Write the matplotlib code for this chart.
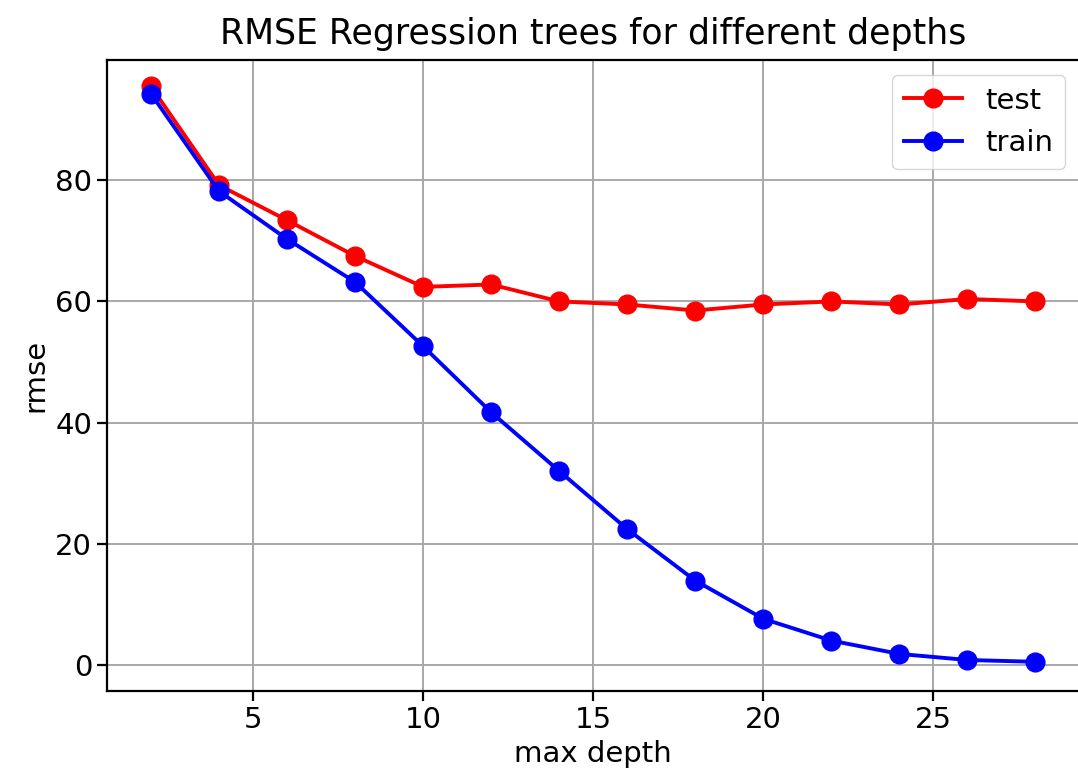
import numpy as np
import matplotlib
matplotlib.use("Agg")
import matplotlib.pyplot as plt

# tree depths and RMSE per split
depths = [2, 4, 6, 8, 10, 12, 14, 16, 18, 20, 22, 24, 26, 28]
rmse_test = [95.5, 79.2, 73.4, 67.5, 62.4, 62.8, 60.0, 59.5, 58.5, 59.5, 60.0, 59.5, 60.4, 60.0]
rmse_train = [94.3, 78.2, 70.3, 63.2, 52.6, 41.7, 32.0, 22.4, 13.9, 7.6, 4.0, 1.8, 0.8, 0.5]

fs = 21
plt.rcParams["font.size"] = fs

fig = plt.figure(figsize=(10.78, 7.84), dpi=100)
# right spine sits just past the canvas edge
ax = fig.add_axes([0.099, 0.118, 0.9026, 0.805])

ax.plot(depths, rmse_test, "o-", color="r", label="test", lw=2.8, ms=13.5)
ax.plot(depths, rmse_train, "o-", color="b", label="train", lw=2.8, ms=13.5)

ax.set_ylim(-4.4, 99.8)
ax.set_title("RMSE Regression trees for different depths", fontsize=25, pad=12)
ax.set_xlabel("max depth", fontsize=fs)
ax.set_ylabel("rmse", fontsize=fs)
ax.tick_params(labelsize=fs, width=1.6, length=7)
for s in ax.spines.values():
    s.set_linewidth(1.6)
ax.grid(True, lw=1.4, color="#a8a8a8")
ax.legend(loc="upper right", fontsize=fs)

fig.savefig("out.png", dpi=100)
